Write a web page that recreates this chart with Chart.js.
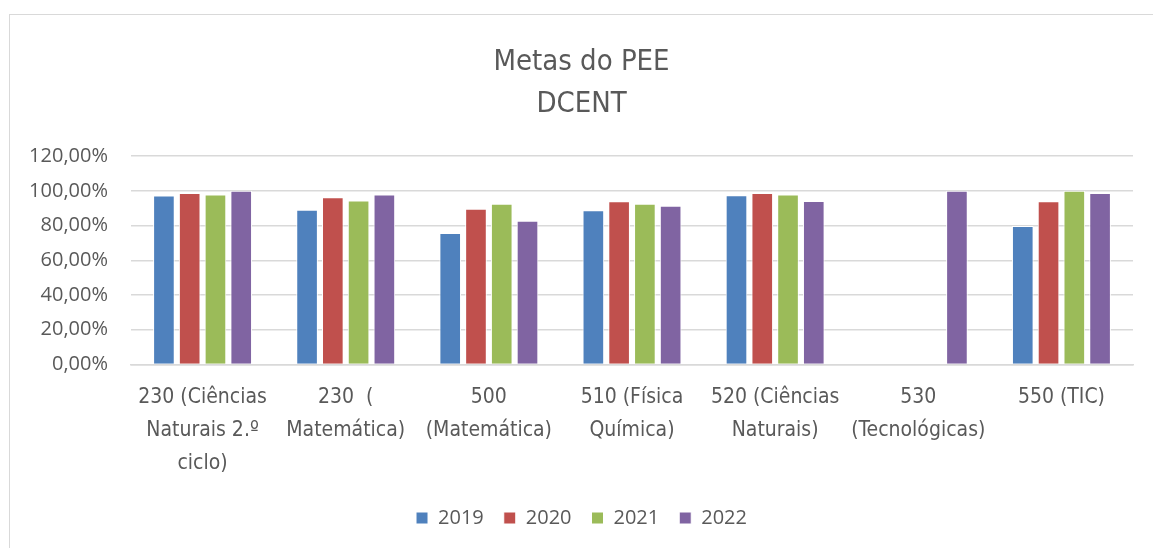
<!DOCTYPE html>
<html>
<head>
<meta charset="utf-8">
<script src="https://cdn.jsdelivr.net/npm/chart.js@4"></script>
<style>
    html, body { margin: 0; padding: 0; background: #ffffff; }
    #frame {
        position: absolute;
        left: 9px;
        top: 14px;
        width: 1150px;
        height: 540px;
        border: 1px solid #d9d9d9;
    }
    #wrap { position: absolute; left: 0; top: 0; width: 1153px; height: 548px; }
</style>
</head>
<body>
<div id="frame"></div>
<div id="wrap"><canvas id="chart" width="1153" height="548"></canvas></div>
<script>
// Dados do gráfico
const categorias = [
    ['230 (Ciências', 'Naturais 2.º', 'ciclo)'],
    ['230  (', 'Matemática)'],
    ['500', '(Matemática)'],
    ['510 (Física', 'Química)'],
    ['520 (Ciências', 'Naturais)'],
    ['530', '(Tecnológicas)'],
    ['550 (TIC)']
];
const anos = ['2019', '2020', '2021', '2022'];
const valores2019 = [97.3, 89.1, 75.7, 88.8, 97.5, null, 79.8];
const valores2020 = [98.8, 96.3, 89.7, 94.0, 98.8, null, 94.0];
const valores2021 = [97.9, 94.4, 92.6, 92.6, 97.9, null, 100.0];
const valores2022 = [100.0, 97.9, 82.7, 91.4, 94.2, 100.0, 98.8];
const cores = ['#4f81bd', '#c0504d', '#9bbb59', '#8064a2'];
const yTicks = [0, 20, 40, 60, 80, 100, 120];

const narrow = "'Liberation Sans Narrow', 'DejaVu Sans Condensed', sans-serif";
const regular = "'Open Sans', 'Liberation Sans', sans-serif";

const series = [valores2019, valores2020, valores2021, valores2022];

const ctx = document.getElementById('chart').getContext('2d');
new Chart(ctx, {
    type: 'bar',
    data: {
        labels: categorias,
        datasets: series.map((vals, i) => ({
            label: anos[i],
            data: vals,
            backgroundColor: cores[i],
            borderColor: '#ffffff',
            borderWidth: 1,
            categoryPercentage: 0.72,
            barPercentage: 0.84
        }))
    },
    options: {
        responsive: false,
        animation: false,
        layout: { padding: { left: 30, right: 20, top: 41, bottom: 10 } },
        plugins: {
            title: {
                display: true,
                text: ['Metas do PEE', 'DCENT'],
                color: '#595959',
                font: { family: narrow, size: 29, weight: 'normal', lineHeight: 1.45 },
                padding: { top: 0, bottom: 31 }
            },
            legend: {
                position: 'bottom',
                labels: {
                    color: '#595959',
                    font: { family: regular, size: 20 },
                    boxWidth: 12,
                    boxHeight: 12,
                    padding: 20
                }
            },
            tooltip: { enabled: false }
        },
        scales: {
            x: {
                grid: { display: false },
                border: { color: '#d9d9d9', width: 1.5 },
                ticks: {
                    color: '#595959',
                    font: { family: narrow, size: 21, lineHeight: 1.58 },
                    maxRotation: 0,
                    autoSkip: false,
                    padding: 8
                }
            },
            y: {
                min: 0,
                max: 120,
                afterBuildTicks: (axis) => { axis.ticks = yTicks.map(v => ({ value: v })); },
                afterFit: (axis) => { axis.width = 101; },
                grid: { color: '#d9d9d9', lineWidth: 1.5, drawTicks: false },
                border: { display: false },
                ticks: {
                    color: '#595959',
                    font: { family: regular, size: 20 },
                    padding: 23,
                    callback: (v) => v.toFixed(2).replace('.', ',') + '%'
                }
            }
        }
    }
});
</script>
</body>
</html>
